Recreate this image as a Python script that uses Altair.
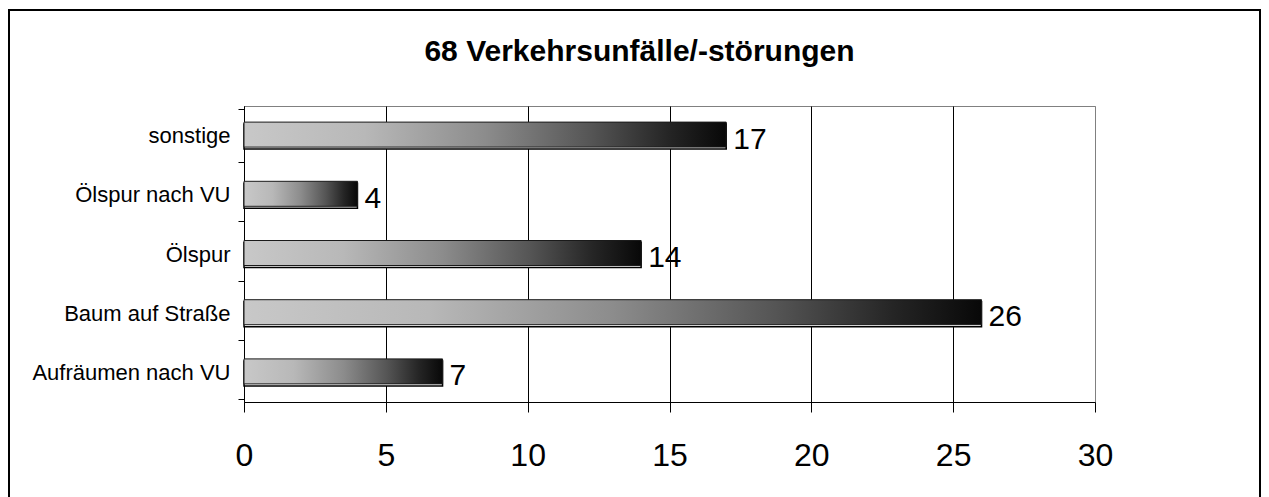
import altair as alt
import pandas as pd

categories = ["sonstige", "Ölspur nach VU", "Ölspur", "Baum auf Straße", "Aufräumen nach VU"]
values = [17, 4, 14, 26, 7]
x_ticks = [0, 5, 10, 15, 20, 25, 30]
title_text = "68 Verkehrsunfälle/-störungen"

FONT = "Liberation Sans"
df = pd.DataFrame({"cat": categories, "val": values})

grad = alt.LinearGradient(
    gradient="linear", x1=0, x2=1, y1=0, y2=0,
    stops=[
        alt.GradientStop(color="#c8c8c8", offset=0.0),
        alt.GradientStop(color="#b8b8b8", offset=0.25),
        alt.GradientStop(color="#8c8c8c", offset=0.5),
        alt.GradientStop(color="#555555", offset=0.72),
        alt.GradientStop(color="#252525", offset=0.88),
        alt.GradientStop(color="#080808", offset=1.0),
    ],
)

y_enc = alt.Y(
    "cat:N", sort=categories, title=None,
    axis=alt.Axis(
        domainColor="black", domainWidth=1, tickColor="black", tickSize=6,
        tickBand="extent", labelFont=FONT, labelFontSize=22, labelColor="black",
        labelPadding=8, labelLimit=400, grid=False,
    ),
)
x_enc = alt.X(
    "val:Q", scale=alt.Scale(domain=[0, 30], nice=False), title=None,
    axis=alt.Axis(
        values=x_ticks, domainColor="black", tickColor="black", tickSize=10,
        labelFont=FONT, labelFontSize=32, labelColor="black", labelPadding=28,
        labelFlush=False,
        grid=True, gridColor={"condition": {"test": "datum.value === 30", "value": "#808080"}, "value": "black"},
        gridWidth=1, gridOpacity=1,
    ),
)

base = alt.Chart(df)

border = alt.Chart(alt.Data(values=[{}])).mark_rect(
    fill=None, stroke="black", strokeWidth=2
).encode(
    x=alt.value(-235), x2=alt.value(1016), y=alt.value(-96), y2=alt.value(420)
)

outline = base.mark_bar(
    height=25, yOffset=1, fill="white", stroke="black", strokeWidth=1.5
).encode(y=y_enc, x=x_enc)

bars = base.mark_bar(
    height=25, yOffset=-1, x2Offset=-5, fill=grad, stroke="#1a1a1a", strokeWidth=1
).encode(y=y_enc, x=x_enc)

labels = base.mark_text(
    align="left", baseline="middle", dx=7, dy=4, font=FONT, fontSize=30, color="black"
).encode(y=y_enc, x=x_enc, text="val:Q")

chart = alt.layer(border, outline, bars, labels).properties(
    width=851, height=296,
    autosize=alt.AutoSizeParams(type="none"),
    padding={"left": 236, "top": 98, "right": 166, "bottom": 95},
    title=alt.TitleParams(
        text=title_text, font=FONT, fontSize=30, fontWeight="bold", color="black",
        anchor="middle", frame="group", dx=-30, offset=0, dy=82, baseline="alphabetic",
    ),
).configure_view(stroke="#808080", strokeWidth=1)

chart.save("out.html", embed_options={"renderer": "svg", "actions": False})
